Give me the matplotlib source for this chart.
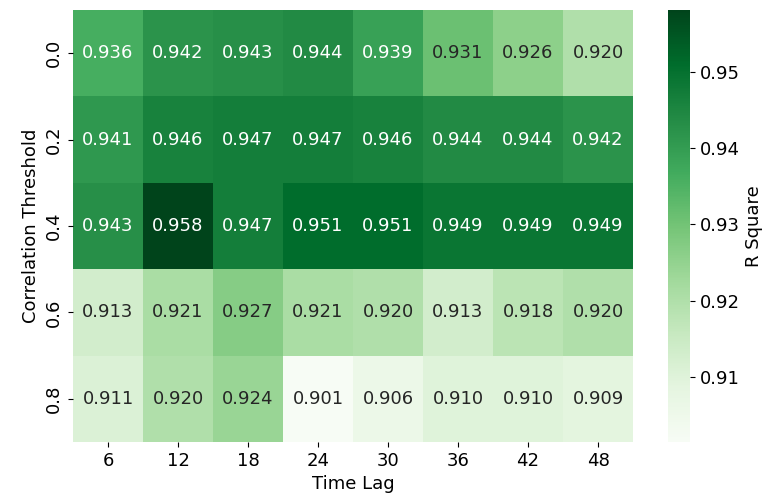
import numpy as np
import pandas as pd
import matplotlib
matplotlib.use("Agg")
import matplotlib.pyplot as plt
import seaborn as sns

time_lags = [6, 12, 18, 24, 30, 36, 42, 48]
thresholds = [0.0, 0.2, 0.4, 0.6, 0.8]

r2_t00 = [0.936, 0.942, 0.943, 0.944, 0.939, 0.931, 0.926, 0.920]
r2_t02 = [0.941, 0.946, 0.947, 0.947, 0.946, 0.944, 0.944, 0.942]
r2_t04 = [0.943, 0.958, 0.947, 0.951, 0.951, 0.949, 0.949, 0.949]
r2_t06 = [0.913, 0.921, 0.927, 0.921, 0.920, 0.913, 0.918, 0.920]
r2_t08 = [0.911, 0.920, 0.924, 0.901, 0.906, 0.910, 0.910, 0.909]

scores = pd.DataFrame([r2_t00, r2_t02, r2_t04, r2_t06, r2_t08],
                      index=thresholds, columns=time_lags)

fig = plt.figure(figsize=(7.68, 5), dpi=100)
ax = fig.add_axes([73 / 768, 58 / 500, 560 / 768, 432 / 500])
cax = fig.add_axes([668 / 768, 58 / 500, 22 / 768, 432 / 500])

fs = 13
sns.heatmap(scores, annot=True, fmt=".3f", cmap="Greens", ax=ax, cbar_ax=cax,
            vmin=0.9015, vmax=0.9581,
            annot_kws={"size": fs})
ax.set_xlabel("Time Lag", fontsize=fs)
ax.set_ylabel("Correlation Threshold", fontsize=fs)
ax.tick_params(labelsize=fs)
cax.tick_params(labelsize=fs)
cax.set_ylabel("R Square", fontsize=fs)
fig.savefig("out.png")
